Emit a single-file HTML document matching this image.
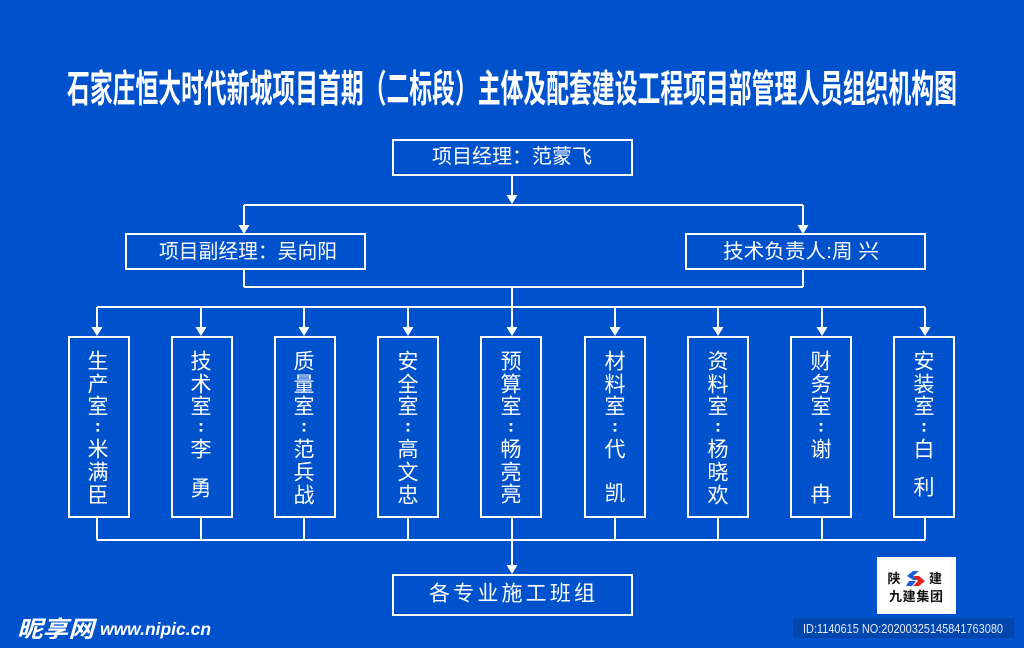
<!DOCTYPE html>
<html><head><meta charset="utf-8"><style>
html,body{margin:0;padding:0;background:#0052cc;}
svg{display:block;}
.t{font-family:"Liberation Sans","Noto Sans CJK SC",sans-serif;fill:#fff;}
</style></head><body>
<svg width="1024" height="648" viewBox="0 0 1024 648" xmlns="http://www.w3.org/2000/svg">
<rect x="0" y="0" width="1024" height="648" fill="#0052cc"/>
<!-- title -->
<text class="t" x="67" y="90" dominant-baseline="central" font-size="38" font-weight="700" textLength="890" lengthAdjust="spacingAndGlyphs">石家庄恒大时代新城项目首期（二标段）主体及配套建设工程项目部管理人员组织机构图</text>

<g stroke="#fff" stroke-width="2" fill="none">
  <rect x="393" y="140" width="239" height="35"/>
  <rect x="126" y="234" width="239" height="35"/>
  <rect x="686" y="234" width="239" height="35"/>
  <rect x="393" y="575" width="239" height="40"/>
  <rect x="69" y="337" width="60" height="180"/>
  <rect x="172" y="337" width="60" height="180"/>
  <rect x="275" y="337" width="60" height="180"/>
  <rect x="378" y="337" width="60" height="180"/>
  <rect x="481" y="337" width="60" height="180"/>
  <rect x="585" y="337" width="60" height="180"/>
  <rect x="688" y="337" width="60" height="180"/>
  <rect x="791" y="337" width="60" height="180"/>
  <rect x="894" y="337" width="60" height="180"/>
  <!-- connectors -->
  <line x1="512" y1="175" x2="512" y2="198"/>
  <line x1="244" y1="205" x2="803" y2="205"/>
  <line x1="244" y1="205" x2="244" y2="226"/>
  <line x1="803" y1="205" x2="803" y2="226"/>
  <line x1="244" y1="269" x2="244" y2="287"/>
  <line x1="803" y1="269" x2="803" y2="287"/>
  <line x1="244" y1="287" x2="803" y2="287"/>
  <line x1="512" y1="287" x2="512" y2="307"/>
  <line x1="97" y1="307" x2="925" y2="307"/>
  <line x1="97" y1="307" x2="97" y2="329"/>
  <line x1="201" y1="307" x2="201" y2="329"/>
  <line x1="304" y1="307" x2="304" y2="329"/>
  <line x1="408" y1="307" x2="408" y2="329"/>
  <line x1="512" y1="307" x2="512" y2="329"/>
  <line x1="615" y1="307" x2="615" y2="329"/>
  <line x1="718" y1="307" x2="718" y2="329"/>
  <line x1="822" y1="307" x2="822" y2="329"/>
  <line x1="925" y1="307" x2="925" y2="329"/>
  <line x1="97" y1="517" x2="97" y2="540"/>
  <line x1="201" y1="517" x2="201" y2="540"/>
  <line x1="304" y1="517" x2="304" y2="540"/>
  <line x1="408" y1="517" x2="408" y2="540"/>
  <line x1="512" y1="517" x2="512" y2="540"/>
  <line x1="615" y1="517" x2="615" y2="540"/>
  <line x1="718" y1="517" x2="718" y2="540"/>
  <line x1="822" y1="517" x2="822" y2="540"/>
  <line x1="925" y1="517" x2="925" y2="540"/>
  <line x1="97" y1="540" x2="925" y2="540"/>
  <line x1="512" y1="540" x2="512" y2="567"/>
</g>
<!-- arrowheads -->
<g fill="#fff">
  <polygon points="506.5,195 517.5,195 512,204"/>
  <polygon points="238.5,225 249.5,225 244,234"/>
  <polygon points="797.5,225 808.5,225 803,234"/>
  <polygon points="91.5,327 102.5,327 97,336"/>
  <polygon points="195.5,327 206.5,327 201,336"/>
  <polygon points="298.5,327 309.5,327 304,336"/>
  <polygon points="402.5,327 413.5,327 408,336"/>
  <polygon points="506.5,327 517.5,327 512,336"/>
  <polygon points="609.5,327 620.5,327 615,336"/>
  <polygon points="712.5,327 723.5,327 718,336"/>
  <polygon points="816.5,327 827.5,327 822,336"/>
  <polygon points="919.5,327 930.5,327 925,336"/>
  <polygon points="506.5,565 517.5,565 512,574"/>
</g>

<!-- horizontal box texts -->
<text class="t" x="432" y="157" dominant-baseline="central" font-size="20" textLength="160" lengthAdjust="spacingAndGlyphs">项目经理：范蒙飞</text>
<text class="t" x="159" y="252" dominant-baseline="central" font-size="20" textLength="178" lengthAdjust="spacingAndGlyphs">项目副经理：吴向阳</text>
<text class="t" x="723" y="252" dominant-baseline="central" font-size="20" textLength="156" lengthAdjust="spacingAndGlyphs">技术负责人:周 兴</text>
<text class="t" x="429" y="594" dominant-baseline="central" font-size="21" textLength="166" lengthAdjust="spacing">各专业施工班组</text>

<!-- vertical box texts -->
<g class="t" font-size="21" text-anchor="middle" dominant-baseline="central" fill="#fff" style="font-family:'Liberation Sans','Noto Sans CJK SC',sans-serif">
  <text x="98" y="362">生</text><text x="98" y="385">产</text><text x="98" y="407">室</text>
  <text x="98" y="450">米</text><text x="98" y="473">满</text><text x="98" y="496">臣</text>

  <text x="201" y="362">技</text><text x="201" y="385">术</text><text x="201" y="407">室</text>
  <text x="201" y="450">李</text><text x="201" y="489">勇</text>

  <text x="304" y="362">质</text><text x="304" y="385">量</text><text x="304" y="407">室</text>
  <text x="304" y="450">范</text><text x="304" y="473">兵</text><text x="304" y="496">战</text>

  <text x="408" y="362">安</text><text x="408" y="385">全</text><text x="408" y="407">室</text>
  <text x="408" y="450">高</text><text x="408" y="473">文</text><text x="408" y="496">忠</text>

  <text x="511" y="362">预</text><text x="511" y="385">算</text><text x="511" y="407">室</text>
  <text x="511" y="450">畅</text><text x="511" y="473">亮</text><text x="511" y="495">亮</text>

  <text x="615" y="362">材</text><text x="615" y="385">料</text><text x="615" y="407">室</text>
  <text x="615" y="450">代</text><text x="615" y="494">凯</text>

  <text x="718" y="362">资</text><text x="718" y="385">料</text><text x="718" y="407">室</text>
  <text x="718" y="450">杨</text><text x="718" y="473">晓</text><text x="718" y="496">欢</text>

  <text x="821" y="362">财</text><text x="821" y="385">务</text><text x="821" y="407">室</text>
  <text x="821" y="450">谢</text><text x="821" y="495">冉</text>

  <text x="924" y="362">安</text><text x="924" y="385">装</text><text x="924" y="407">室</text>
  <text x="924" y="450">白</text><text x="924" y="488">利</text>
</g>
<!-- colons -->
<g fill="#fff">
  <rect x="96.5" y="423" width="2.6" height="2.6"/><rect x="96.5" y="429" width="2.6" height="2.6"/>
  <rect x="199.7" y="423" width="2.6" height="2.6"/><rect x="199.7" y="429" width="2.6" height="2.6"/>
  <rect x="302.7" y="423" width="2.6" height="2.6"/><rect x="302.7" y="429" width="2.6" height="2.6"/>
  <rect x="406.7" y="423" width="2.6" height="2.6"/><rect x="406.7" y="429" width="2.6" height="2.6"/>
  <rect x="509.7" y="423" width="2.6" height="2.6"/><rect x="509.7" y="429" width="2.6" height="2.6"/>
  <rect x="613.7" y="423" width="2.6" height="2.6"/><rect x="613.7" y="429" width="2.6" height="2.6"/>
  <rect x="716.7" y="423" width="2.6" height="2.6"/><rect x="716.7" y="429" width="2.6" height="2.6"/>
  <rect x="819.7" y="423" width="2.6" height="2.6"/><rect x="819.7" y="429" width="2.6" height="2.6"/>
  <rect x="922.7" y="423" width="2.6" height="2.6"/><rect x="922.7" y="429" width="2.6" height="2.6"/>
</g>

<!-- logo -->
<rect x="877" y="557" width="79" height="57" fill="#fff"/>
<text x="894" y="578.5" dominant-baseline="central" text-anchor="middle" font-size="13" font-weight="700" fill="#111" style="font-family:'Liberation Sans','Noto Sans CJK SC',sans-serif">陕</text>
<text x="935.5" y="578.5" dominant-baseline="central" text-anchor="middle" font-size="13" font-weight="700" fill="#111" style="font-family:'Liberation Sans','Noto Sans CJK SC',sans-serif">建</text>
<polygon points="913,571 919,571 913,576 918,580 913,580 907,576" fill="#1a5fd6"/>
<polygon points="909,581 916,581 912,586 906,586" fill="#1a5fd6"/>
<polygon points="913,576 919,576 925,581 919,586 913,586 918,581" fill="#e52020"/>
<text x="889" y="596.5" dominant-baseline="central" font-size="13" font-weight="700" fill="#111" textLength="54" lengthAdjust="spacing" style="font-family:'Liberation Sans','Noto Sans CJK SC',sans-serif">九建集团</text>

<!-- ID strip -->
<rect x="793" y="618" width="221" height="20" fill="#0046ad"/>
<text x="803" y="633" font-size="12.5" fill="#e4eaf6" textLength="200" lengthAdjust="spacingAndGlyphs" style="font-family:'Liberation Sans',sans-serif">ID:1140615 NO:20200325145841763080</text>

<!-- watermark -->
<text x="17" y="637" font-size="23" font-weight="700" font-style="italic" fill="#fff" textLength="77" lengthAdjust="spacingAndGlyphs" style="font-family:'Liberation Sans','Noto Sans CJK SC',sans-serif">昵享网</text>
<text x="100" y="635" font-size="17.4" font-weight="700" font-style="italic" fill="#fff" textLength="111" lengthAdjust="spacingAndGlyphs" style="font-family:'Liberation Sans',sans-serif">www.nipic.cn</text>
</svg>
</body></html>
